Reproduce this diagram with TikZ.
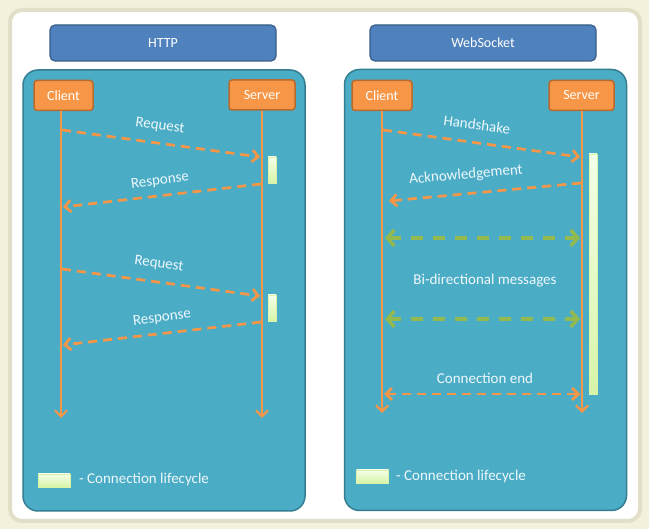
\documentclass[tikz,border=0pt]{standalone}
\usepackage{fontspec}
\setmainfont{Carlito}
\usetikzlibrary{arrows.meta,shadows}
\definecolor{bgcream}{HTML}{F3F1DB}
\definecolor{framec}{HTML}{E2DFC8}
\definecolor{hdrfill}{HTML}{4F81BD}
\definecolor{hdrline}{HTML}{385D8A}
\definecolor{panelfill}{HTML}{4BACC6}
\definecolor{panelline}{HTML}{357D91}
\definecolor{orfill}{HTML}{F79646}
\definecolor{orline}{HTML}{B66A2E}
\definecolor{orarrow}{HTML}{F79646}
\definecolor{grarrow}{HTML}{94B94F}
\definecolor{txtc}{HTML}{EEF8FB}
\definecolor{lctop}{HTML}{F4FFE8}
\definecolor{lcbot}{HTML}{D8F4A8}
\begin{document}
\begin{tikzpicture}[x=1pt,y=-1pt,
  hdr/.style={draw=hdrline, line width=1.2pt, fill=hdrfill, rounded corners=5pt,
    minimum width=226pt, minimum height=36pt, text=white, font=\fontsize{14}{16}\selectfont},
  panel/.style={draw=panelline, line width=1.5pt, fill=panelfill, rounded corners=15pt,
    minimum width=282pt, minimum height=441pt},
  actor/.style={draw=orline, line width=1.5pt, fill=orfill, rounded corners=3pt,
    minimum height=30pt, inner sep=0pt, text=white, font=\fontsize{14}{16}\selectfont},
  life/.style={draw=orarrow, line width=2.2pt, -{Straight Barb[length=6pt,width=12pt]}},
  msg/.style={draw=orarrow, line width=2.7pt, dash pattern=on 9pt off 6pt,
    -{Straight Barb[length=6pt,width=12pt]}},
  msgb/.style={draw=orarrow, line width=2.7pt, dash pattern=on 9pt off 6pt,
    {Straight Barb[length=6pt,width=12pt]}-{Straight Barb[length=6pt,width=12pt]}},
  gmsg/.style={draw=grarrow, line width=3.5pt, dash pattern=on 12pt off 10pt,
    {Straight Barb[length=7pt,width=16pt]}-{Straight Barb[length=7pt,width=16pt]}},
  lbl/.style={text=txtc, font=\fontsize{15}{17}\selectfont, inner sep=0pt},
  bar/.style={draw=lcbot, line width=0.3pt, top color=lctop, bottom color=lcbot},
]
\useasboundingbox (0,0) rectangle (649,529);
\fill[bgcream] (0,0) rectangle (649,529);
\draw[framec, line width=4pt, fill=white, rounded corners=12pt] (10,10) rectangle (640,521);

% headers
\node[hdr] (h1) at (163,43) {HTTP};
\node[hdr] (h2) at (483,43) {WebSocket};

% panels
\node[panel] (p1) at (164,290.5) {};
\node[panel] (p2) at (485.5,290) {};

% ---------- HTTP ----------
\node[actor, minimum width=59pt] (c1) at (63.5,95.5) {Client};
\node[actor, minimum width=66pt] (s1) at (262,95) {Server};
\coordinate (c1e) at (61,418);
\coordinate (s1e) at (262,418);
\draw[life] (c1.south -| c1e) -- (c1e);
\draw[life] (s1.south) -- (s1e);

\coordinate (a1s) at (62,130); \coordinate (a1e) at (260,157);
\coordinate (a2s) at (261,184); \coordinate (a2e) at (63,207);
\coordinate (a3s) at (62,269); \coordinate (a3e) at (260,296);
\coordinate (a4s) at (261,322); \coordinate (a4e) at (63,345);
\draw[msg] (a1s) -- (a1e);
\draw[msg] (a2s) -- (a2e);
\draw[msg] (a3s) -- (a3e);
\draw[msg] (a4s) -- (a4e);
\node[lbl, rotate=-7.5] (l1) at (160,126) {Request};
\node[lbl, rotate=7] (l2) at (160,181) {Response};
\node[lbl, rotate=-7.5] (l3) at (159,264) {Request};
\node[lbl, rotate=7] (l4) at (162,318) {Response};

\node[bar, minimum width=8pt, minimum height=26pt, inner sep=0pt] (b1) at (272,170) {};
\node[bar, minimum width=8pt, minimum height=26pt, inner sep=0pt] (b2) at (272,308) {};

\node[bar, minimum width=32pt, minimum height=13pt, inner sep=0pt] (k1) at (54,480.5) {};
\node[lbl, anchor=west] (k1t) at (79,480) {- Connection lifecycle};

% ---------- WebSocket ----------
\node[actor, minimum width=60pt] (c2) at (382,95.5) {Client};
\node[actor, minimum width=65pt] (s2) at (581.5,95.5) {Server};
\coordinate (c2e) at (382,413);
\coordinate (s2e) at (582,413);
\draw[life] (c2.south -| c2e) -- (c2e);
\draw[life] (s2.south -| s2e) -- (s2e);

\coordinate (w1s) at (383,130); \coordinate (w1e) at (580,157);
\coordinate (w2s) at (581,183); \coordinate (w2e) at (389,201);
\coordinate (w3s) at (385,238); \coordinate (w3e) at (580,238);
\coordinate (w4s) at (385,319); \coordinate (w4e) at (580,319);
\coordinate (w5s) at (384,394); \coordinate (w5e) at (580,394);
\draw[msg] (w1s) -- (w1e);
\draw[msg] (w2s) -- (w2e);
\draw[gmsg] (w3s) -- (w3e);
\draw[gmsg] (w4s) -- (w4e);
\draw[msgb] (w5s) -- (w5e);
\node[lbl, rotate=-7.5] (m1) at (477,125) {Handshake};
\node[lbl, rotate=5] (m2) at (466,175) {Acknowledgement};
\node[lbl] (m3) at (485,281) {Bi-directional messages};
\node[lbl] (m5) at (485,378) {Connection end};

\node[bar, minimum width=8pt, minimum height=240pt, inner sep=0pt] (b3) at (593,274) {};

\node[bar, minimum width=32pt, minimum height=13pt, inner sep=0pt] (k2) at (372.5,476.5) {};
\node[lbl, anchor=west] (k2t) at (396,477) {- Connection lifecycle};
\end{tikzpicture}
\end{document}
